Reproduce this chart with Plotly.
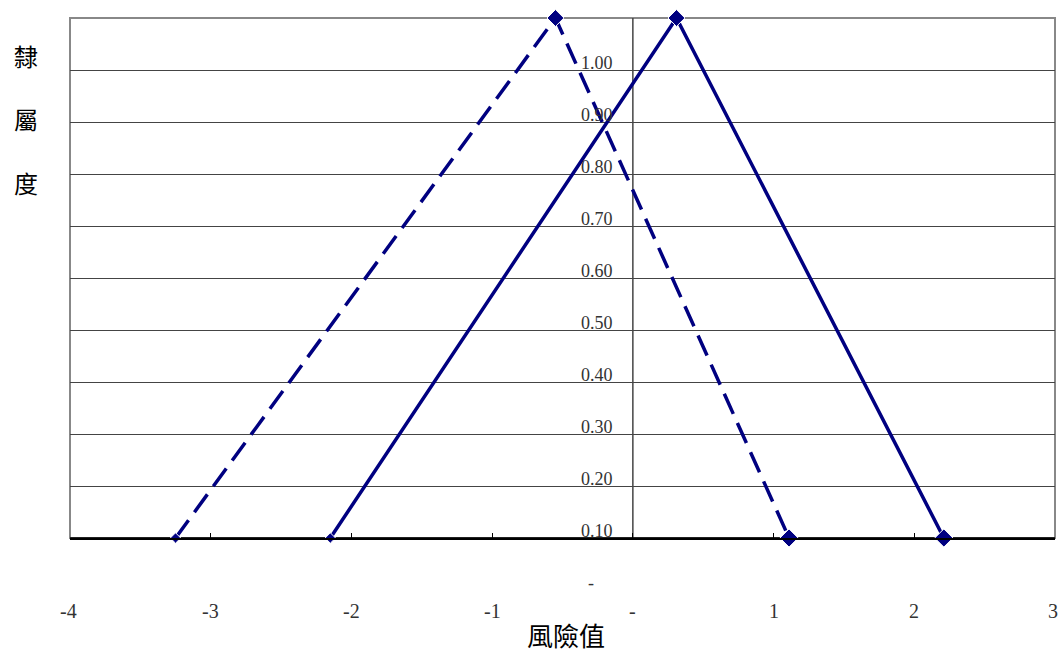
import plotly.graph_objects as go

# data
dashed_x = [-3.25, -0.55, 1.11]
dashed_y = [0.0, 1.0, 0.0]
solid_x = [-2.15, 0.31, 2.21]
solid_y = [0.0, 1.0, 0.0]

x_tickvals = [-4, -3, -2, -1, 0, 1, 2, 3]
x_ticktext = ["-4", "-3", "-2", "-1", "-", "1", "2", "3"]
y_gridvals = [0.1, 0.2, 0.3, 0.4, 0.5, 0.6, 0.7, 0.8, 0.9, 1.0]
y_labelvals = [0.0, 0.1, 0.2, 0.3, 0.4, 0.5, 0.6, 0.7, 0.8, 0.9, 1.0]
y_labeltext = ["-", "0.10", "0.20", "0.30", "0.40", "0.50", "0.60", "0.70", "0.80", "0.90", "1.00"]
y_label_offset = -0.087

y_title_chars = ["隸", "屬", "度"]
x_title = "風險值"

NAVY = "#000080"
SERIF = "Liberation Serif, DejaVu Serif, serif"
CJK = "Noto Sans CJK TC, Noto Sans CJK SC, sans-serif"

W, H = 1058, 652
L, R, T, B = 70, 3, 18, 114
PW, PH = W - L - R, H - T - B
X_MIN, X_MAX = -4, 3


def px_to_paper(px, py):
    return (px - L) / PW, (H - B - py) / PH


fig = go.Figure()
fig.add_trace(go.Scatter(
    x=dashed_x, y=dashed_y, mode="lines+markers",
    line=dict(color=NAVY, width=3.5, dash="22px,10px"),
    marker=dict(symbol="diamond", size=[8, 13, 14], color=NAVY, opacity=1),
    showlegend=False, cliponaxis=False))
fig.add_trace(go.Scatter(
    x=solid_x, y=solid_y, mode="lines+markers",
    line=dict(color=NAVY, width=3.5),
    marker=dict(symbol="diamond", size=[8, 13, 14], color=NAVY, opacity=1),
    showlegend=False, cliponaxis=False))

annotations = []
x0_paper = (0 - X_MIN) / (X_MAX - X_MIN)
for v, t in zip(y_labelvals, y_labeltext):
    annotations.append(dict(
        x=x0_paper, y=v + y_label_offset, xref="paper", yref="paper", text=t,
        showarrow=False, xanchor="right", yanchor="middle",
        xshift=(-37 if t == "-" else -18),
        font=dict(family=SERIF, size=18, color="#333333")))

# x tick labels (as annotations so the edge label "3" is kept)
_, xlab_y = px_to_paper(0, 611)
for v, t in zip(x_tickvals, x_ticktext):
    annotations.append(dict(
        x=(v - X_MIN) / (X_MAX - X_MIN), y=xlab_y, xref="paper", yref="paper",
        text=t, showarrow=False, xanchor="center", yanchor="middle",
        xshift=(-2 if v in (X_MIN, X_MAX) else 0),
        font=dict(family=SERIF, size=20, color="#333333")))

y_title_py = [56, 119, 182]
for ch, py in zip(y_title_chars, y_title_py):
    ax, ay = px_to_paper(26, py)
    annotations.append(dict(
        x=ax, y=ay, xref="paper", yref="paper", text=ch, showarrow=False,
        xanchor="center", yanchor="middle",
        font=dict(family=CJK, size=24, color="black")))
tx, ty = px_to_paper(566, 634)
annotations.append(dict(
    x=tx, y=ty, xref="paper", yref="paper", text=x_title, showarrow=False,
    xanchor="center", yanchor="middle",
    font=dict(family=CJK, size=26, color="black")))

fig.update_layout(
    width=W, height=H,
    margin=dict(l=L, r=R, t=T, b=B),
    paper_bgcolor="white", plot_bgcolor="white",
    annotations=annotations,
    xaxis=dict(
        range=[X_MIN, X_MAX], tickvals=x_tickvals, showticklabels=False,
        ticks="inside", ticklen=5, tickcolor="black",
        showline=True, linecolor="black", linewidth=1.5,
        showgrid=False, zeroline=False),
    yaxis=dict(
        range=[0, 1], tickvals=y_gridvals, showticklabels=False,
        showgrid=True, gridcolor="#444444", gridwidth=1,
        zeroline=False, showline=False, ticks=""),
    shapes=[
        dict(type="rect", xref="x domain", yref="y domain", x0=0, x1=1, y0=0, y1=1,
             line=dict(color="#888888", width=2), layer="below"),
        dict(type="line", xref="x", yref="y domain", x0=0, x1=0, y0=0, y1=1,
             line=dict(color="#444444", width=1.5), layer="below"),
        dict(type="line", xref="x domain", yref="y", x0=0, x1=1, y0=0, y1=0,
             line=dict(color="black", width=1.5), layer="below"),
    ],
)

fig.write_html("out.html")
